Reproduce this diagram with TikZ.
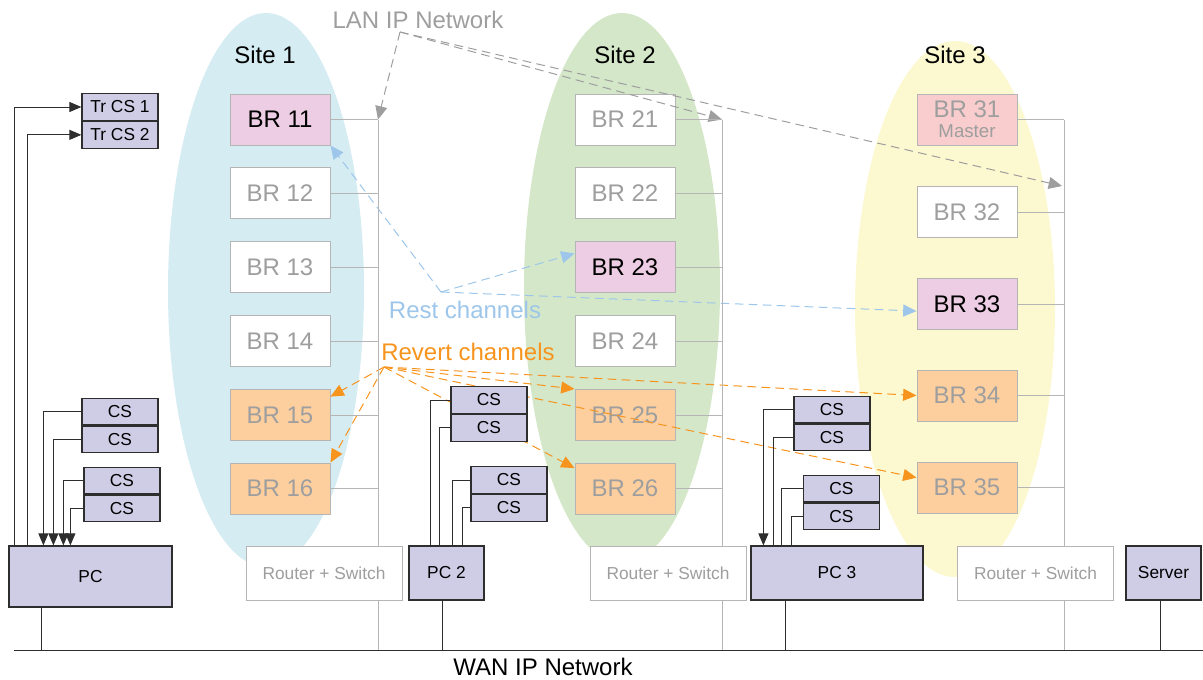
\documentclass[tikz,border=0pt]{standalone}
\usepackage{fontspec}
\setmainfont{Liberation Sans}
\usetikzlibrary{arrows.meta}

\definecolor{siteblue}{HTML}{D5ECF3}
\definecolor{sitegreen}{HTML}{D4E7C9}
\definecolor{siteyellow}{HTML}{FCF8CF}
\definecolor{brpinkfill}{HTML}{ECCDE3}
\definecolor{masterfill}{HTML}{F9CDCD}
\definecolor{brorangefill}{HTML}{FDCF9E}
\definecolor{csfill}{HTML}{CFCCE6}
\definecolor{restblue}{HTML}{9DC6EA}
\definecolor{revertorange}{HTML}{F7941D}
\definecolor{boxgray}{HTML}{B5B5B5}
\definecolor{txtgray}{HTML}{9E9E9E}
\definecolor{pcline}{HTML}{2E2E2E}

\tikzset{every picture/.style={line width=0.75pt}}
\tikzset{
  brbox/.style={draw=boxgray, fill=white, text=txtgray, minimum width=75pt, minimum height=38.25pt, inner sep=0pt, font=\fontsize{18}{18}\selectfont},
  brpink/.style={brbox, fill=brpinkfill, text=black},
  brorange/.style={brbox, fill=brorangefill},
  brmaster/.style={brbox, fill=masterfill, align=center, font=\fontsize{18}{15}\selectfont},
  csbox/.style={draw=pcline, fill=csfill, line width=0.9pt, minimum width=57pt, minimum height=20pt, inner sep=0pt, font=\fontsize{13}{13}\selectfont},
  pcbox/.style={csbox, minimum width=56.25pt, minimum height=40.5pt},
  routerbox/.style={draw=boxgray, fill=white, text=txtgray, minimum width=117pt, minimum height=40.5pt, inner sep=0pt, font=\fontsize{13}{13}\selectfont},
  biglabel/.style={font=\fontsize{18}{18}\selectfont, inner sep=0pt},
  lanline/.style={draw=boxgray},
  wire/.style={draw=pcline},
  wirearrow/.style={wire, -{Triangle[length=9pt,width=7.5pt]}},
  lanarrow/.style={draw=txtgray, dash pattern=on 6.5pt off 4pt, -{Triangle[length=10pt,width=9pt]}},
  restarrow/.style={draw=restblue, dash pattern=on 6.5pt off 4pt, -{Triangle[length=10pt,width=9pt]}},
  revertarrow/.style={draw=revertorange, dash pattern=on 6.5pt off 4pt, -{Triangle[length=10pt,width=9pt]}},
}

\begin{document}
\begin{tikzpicture}[x=0.75pt,y=0.75pt,yscale=-1,xscale=1]
\useasboundingbox (0,0) rectangle (1203,679);

% sites
\fill[siteblue] (266,290) ellipse [x radius=98, y radius=277];
\fill[sitegreen] (622,288) ellipse [x radius=98, y radius=275];
\fill[siteyellow] (955,309) ellipse [x radius=100, y radius=268];

\node[biglabel] (site1) at (265,55) {Site 1};
\node[biglabel] (site2) at (625,55) {Site 2};
\node[biglabel] (site3) at (955,55) {Site 3};

% labels
\node[biglabel, text=txtgray] (lanlabel) at (418,20) {LAN IP Network};
\node[biglabel, text=restblue] (restlabel) at (465,310) {Rest channels};
\node[biglabel, text=revertorange] (revertlabel) at (468,352) {Revert channels};
\node[biglabel] (wanlabel) at (543,667) {WAN IP Network};

\coordinate (lanhub) at (400,32);
\coordinate (resthub) at (441,292);
\coordinate (reverthub) at (384,367);

% border routers
\node[brpink] (br11) at (280,119.5) {BR 11};
\node[brbox] (br12) at (280,193) {BR 12};
\node[brbox] (br13) at (280,267) {BR 13};
\node[brbox] (br14) at (280,341) {BR 14};
\node[brorange] (br15) at (280,415) {BR 15};
\node[brorange] (br16) at (280,488.5) {BR 16};

\node[brbox] (br21) at (625,119.5) {BR 21};
\node[brbox] (br22) at (625,193) {BR 22};
\node[brpink] (br23) at (625,267) {BR 23};
\node[brbox] (br24) at (625,341) {BR 24};
\node[brorange] (br25) at (625,415) {BR 25};
\node[brorange] (br26) at (625,488.5) {BR 26};

\node[brmaster] (br31) at (967,119.5) {BR 31\\{\fontsize{14}{15}\selectfont Master}};
\node[brbox] (br32) at (967,212) {BR 32};
\node[brpink] (br33) at (967,304) {BR 33};
\node[brorange] (br34) at (967,395.5) {BR 34};
\node[brorange] (br35) at (967,487.5) {BR 35};

% channels
\draw[lanarrow] (lanhub) -- (378,119.5) coordinate (lan1);
\draw[lanarrow] (lanhub) -- (722,119.5) coordinate (lan2);
\draw[lanarrow] (lanhub) -- (1062,186) coordinate (lan3in);
\coordinate (lan3) at (1064,119.5);

\draw[restarrow] (resthub) -- (br11.south east);
\draw[restarrow] (resthub) -- (br23.165);
\draw[restarrow] (resthub) -- (br33.188);

\draw[revertarrow] (reverthub) -- (br15.20);
\draw[revertarrow] (reverthub) -- (br16.north east);
\draw[revertarrow] (reverthub) -- (br25.north west);
\draw[revertarrow] (reverthub) -- (br26.158);
\draw[revertarrow] (reverthub) -- (br34.west);
\draw[revertarrow] (reverthub) -- (br35.169);

% WAN
\coordinate (wanL) at (14,650);
\coordinate (wanR) at (1203,650);
\draw[wire] (wanL) -- (wanR);

% LAN lines
\draw[lanline] (lan1) -- (lan1 |- wanL);
\draw[lanline] (lan2) -- (lan2 |- wanL);
\draw[lanline] (lan3) -- (lan3 |- wanL);
\draw[lanline] (br11.east) -- (br11.east -| lan1);
\draw[lanline] (br12.east) -- (br12.east -| lan1);
\draw[lanline] (br13.east) -- (br13.east -| lan1);
\draw[lanline] (br14.east) -- (br14.east -| lan1);
\draw[lanline] (br15.east) -- (br15.east -| lan1);
\draw[lanline] (br16.east) -- (br16.east -| lan1);
\draw[lanline] (br21.east) -- (br21.east -| lan2);
\draw[lanline] (br22.east) -- (br22.east -| lan2);
\draw[lanline] (br23.east) -- (br23.east -| lan2);
\draw[lanline] (br24.east) -- (br24.east -| lan2);
\draw[lanline] (br25.east) -- (br25.east -| lan2);
\draw[lanline] (br26.east) -- (br26.east -| lan2);
\draw[lanline] (br31.east) -- (br31.east -| lan3);
\draw[lanline] (br32.east) -- (br32.east -| lan3);
\draw[lanline] (br33.east) -- (br33.east -| lan3);
\draw[lanline] (br34.east) -- (br34.east -| lan3);
\draw[lanline] (br35.east) -- (br35.east -| lan3);

\node[routerbox] (rs1) at (324,573) {Router + Switch};
\node[routerbox] (rs2) at (668,573) {Router + Switch};
\node[routerbox] (rs3) at (1035.5,573) {Router + Switch};

% control stations
\node[pcbox, minimum width=122.25pt, minimum height=45.75pt] (pc) at (90.5,576.5) {PC};
\node[pcbox] (pc2) at (446.5,573) {PC 2};
\node[pcbox, minimum width=129pt] (pc3) at (837,573) {PC 3};
\node[pcbox] (server) at (1163.5,573) {Server};

\draw[wire] (pc.south -| 41,0) -- (41,650) coordinate (wpc);
\draw[wire] (pc2.south -| 442,0) -- (442,650) coordinate (wpc2);
\draw[wire] (pc3.south -| 785,0) -- (785,650) coordinate (wpc3);
\draw[wire] (server.south -| 1160,0) -- (1160,650) coordinate (wserver);

\node[csbox] (trcs1) at (120,107) {Tr CS 1};
\node[csbox, anchor=north] (trcs2) at (trcs1.south) {Tr CS 2};

\node[csbox] (csa1) at (120,411.5) {CS};
\node[csbox, anchor=north] (csa2) at (csa1.south) {CS};
\node[csbox] (csb1) at (122,480.5) {CS};
\node[csbox, anchor=north] (csb2) at (csb1.south) {CS};

\node[csbox] (csc1) at (489,400) {CS};
\node[csbox, anchor=north] (csc2) at (csc1.south) {CS};
\node[csbox] (csd1) at (509,480) {CS};
\node[csbox, anchor=north] (csd2) at (csd1.south) {CS};

\node[csbox] (cse1) at (832,409.5) {CS};
\node[csbox, anchor=north] (cse2) at (cse1.south) {CS};
\node[csbox] (csf1) at (841.5,488.5) {CS};
\node[csbox, anchor=north] (csf2) at (csf1.south) {CS};

\draw[wirearrow] ([shift={(6,0)}]pc.north west) |- (trcs1.west);
\draw[wirearrow] ([shift={(19,0)}]pc.north west) |- (trcs2.west);
\draw[wirearrow] (csa1.west) -| ([shift={(35,0)}]pc.north west);
\draw[wirearrow] (csa2.west) -| ([shift={(45,0)}]pc.north west);
\draw[wirearrow] (csb1.west) -| ([shift={(55,0)}]pc.north west);
\draw[wirearrow] (csb2.west) -| ([shift={(62,0)}]pc.north west);

\draw[wire] (csc1.west) -| ([shift={(22,0)}]pc2.north west);
\draw[wire] (csc2.west) -| ([shift={(31,0)}]pc2.north west);
\draw[wire] (csd1.west) -| ([shift={(44,0)}]pc2.north west);
\draw[wire] (csd2.west) -| ([shift={(54,0)}]pc2.north west);

\draw[wirearrow] (cse1.west) -| ([shift={(13,0)}]pc3.north west);
\draw[wire] (cse2.west) -| ([shift={(23,0)}]pc3.north west);
\draw[wire] (csf1.west) -| ([shift={(31,0)}]pc3.north west);
\draw[wire] (csf2.west) -| ([shift={(41,0)}]pc3.north west);
\end{tikzpicture}
\end{document}
